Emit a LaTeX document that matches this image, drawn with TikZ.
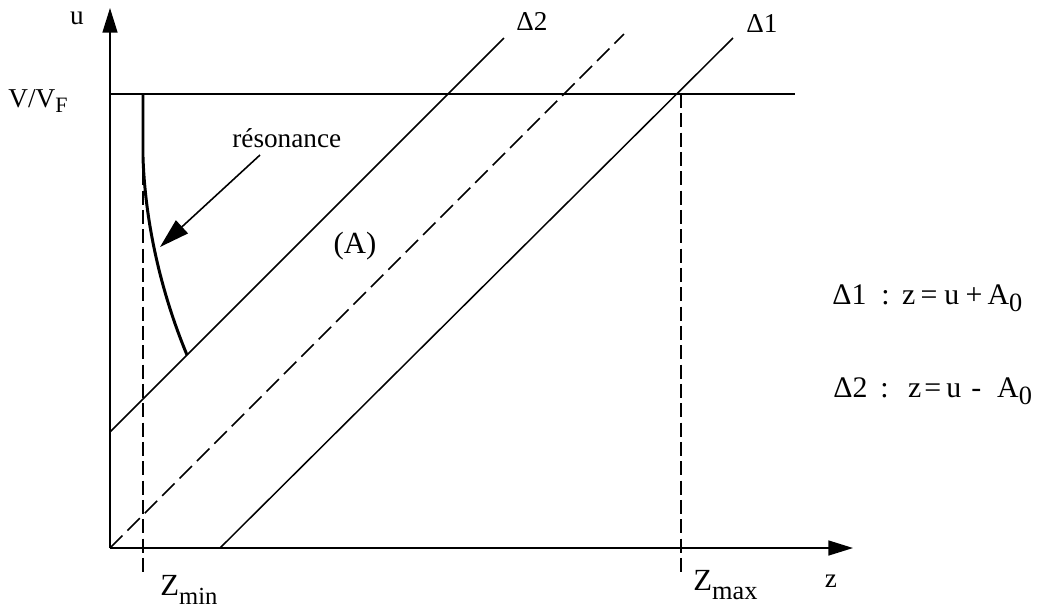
\documentclass[tikz,border=0pt]{standalone}
\usepackage{fontspec}
\setmainfont{Liberation Serif}
\usetikzlibrary{arrows.meta}
\newcommand{\lowsub}[2]{\raisebox{-#1}{\fontsize{#2}{#2}\selectfont}}
\newcommand{\dsub}[3]{\raisebox{-#1}{\fontsize{#2}{#2}\selectfont #3}}
\begin{document}
\begin{tikzpicture}[x=0.02cm,y=-0.02cm,
  thinline/.style={line width=0.85pt},
  axisline/.style={line width=0.9pt,-{Triangle[length=14pt,width=8.5pt]}},
  dashslant/.style={line width=0.85pt,dash pattern=on 10pt off 4pt},
  dashvert/.style={line width=0.8pt,dash pattern=on 8pt off 3pt},
  rescurve/.style={line width=1.7pt},
  resarrow/.style={line width=0.9pt,-{Triangle[length=17pt,width=10pt]}},
  lbl/.style={inner sep=0pt,font=\fontsize{15.5}{18}\selectfont},
  biglbl/.style={inner sep=0pt,font=\fontsize{17.5}{20}\selectfont},
  eqlbl/.style={inner sep=0pt,font=\fontsize{17}{20}\selectfont}]
\useasboundingbox (0,0) rectangle (1038,610);
% points
\coordinate (O) at (110,548);
\coordinate (Ytop) at (110,8);
\coordinate (Xend) at (853,548);
\coordinate (VL) at (110,94);
\coordinate (VR) at (795,94);
\coordinate (D2a) at (110,432);
\coordinate (D2b) at (504,38);
\coordinate (Da) at (110,548);
\coordinate (Db) at (624,34);
\coordinate (D1a) at (220,548);
\coordinate (D1b) at (733,38);
\coordinate (ZminT) at (143,94);
\coordinate (ZminB) at (143,573);
\coordinate (ZmaxT) at (681,94);
\coordinate (ZmaxB) at (681,576);
\coordinate (R1) at (143,157);
\coordinate (R2) at (187,355);
\coordinate (RA) at (260,155);
\coordinate (RB) at (160,247);
% axes
\draw[axisline] (O) -- (Ytop);
\draw[axisline] (O) -- (Xend);
% V/VF line
\draw[thinline] (VL) -- (VR);
% lines
\draw[thinline] (D2a) -- (D2b);
\draw[dashslant] (Da) -- (Db);
\draw[thinline] (D1a) -- (D1b);
% dashed verticals
\draw[dashvert] (ZminT) -- (ZminB);
\draw[dashvert] (ZmaxT) -- (ZmaxB);
% resonance curve
\draw[rescurve] (ZminT) -- (R1) .. controls (145,220) and (160,290) .. (R2);
\draw[resarrow] (RA) -- (RB);
% labels
\node[lbl,anchor=base] (u) at (77,24) {u};
\node[lbl,anchor=base west] (vvf) at (8,107) {V/V\dsub{3pt}{12.5pt}{F}};
\node[lbl,anchor=base west] (res) at (232,147) {résonance};
\node[biglbl,anchor=base] (A) at (355,253) {(A)};
\node[lbl,anchor=base] (d2) at (532,30) {Δ2};
\node[lbl,anchor=base] (d1) at (762,32) {Δ1};
\node[biglbl,anchor=base west] (zmin) at (160,595) {Z\dsub{5.5pt}{14pt}{min}};
\node[biglbl,anchor=base west] (zmax) at (693,590) {Z\dsub{5.5pt}{15pt}{max}};
\node[lbl,anchor=base] (z) at (831,587) {z};
\node[eqlbl,anchor=base west] (eq1) at (832,304) {Δ1\hspace{8.5pt}:\hspace{7pt}z\hspace{3pt}=\hspace{4pt}u\hspace{3.5pt}+\hspace{3pt}A\dsub{4pt}{15pt}{0}};
\node[eqlbl,anchor=base west] (eq2) at (833,397) {Δ2\hspace{7.4pt}:\hspace{11pt}z\hspace{1.7pt}=\hspace{3pt}u\hspace{5.7pt}-\hspace{9pt}A\dsub{4pt}{15pt}{0}};
\end{tikzpicture}
\end{document}
